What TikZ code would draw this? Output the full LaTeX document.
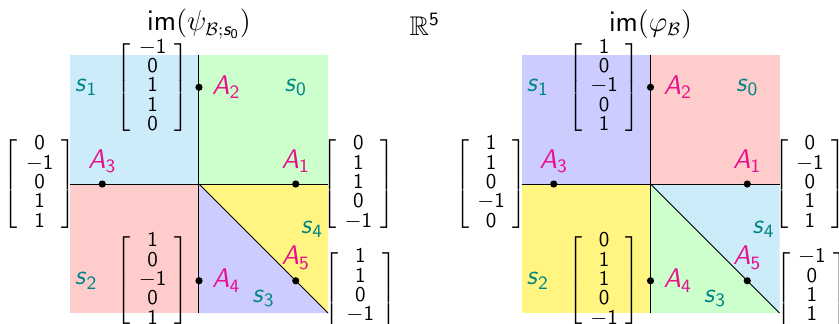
\documentclass[tikz,border=0pt]{standalone}
\usepackage{amsmath,amssymb}
\usepackage{tikz}
\usetikzlibrary{positioning}
\renewcommand{\familydefault}{\sfdefault}

\definecolor{regcyan}{RGB}{204,236,250}
\definecolor{reggreen}{RGB}{204,255,204}
\definecolor{regpink}{RGB}{255,204,204}
\definecolor{reglav}{RGB}{204,204,255}
\definecolor{regyellow}{RGB}{255,245,128}
\definecolor{ptpink}{RGB}{232,16,140}
\definecolor{stealcol}{RGB}{0,133,133}

\newcommand{\biglbl}{\fontsize{13.5}{16}\selectfont}
\newcommand{\vecfont}{\fontsize{10.5}{8.5}\selectfont}
% italic sans letter with upright sans index
\newcommand{\sv}[2]{\textit{#1}$_{\text{#2}}$}
\newcommand{\colvec}[5]{$\left[\vcenter{\hbox{\setlength{\tabcolsep}{4pt}%
  \begin{tabular}{c}#1\\#2\\#3\\#4\\#5\end{tabular}}}\right]$}

\begin{document}
\begin{tikzpicture}[x=1.134cm,y=1.134cm,
    wall/.style={line width=0.5pt},
    pt/.style={circle,fill=black,inner sep=0pt,minimum size=3.6pt},
    alab/.style={text=ptpink,font=\biglbl},
    slab/.style={text=stealcol,font=\biglbl},
    ttl/.style={font=\biglbl},
    vec/.style={font=\vecfont}]

\useasboundingbox (-3.085,-2.155) rectangle (9.922,2.853);

% Titles
\node[ttl] (Lttl) at (0,2.48)
  {$\mathsf{im}(\psi_{\mathcal{B};\text{\itshape s}_{\text{0}}})$};
\node[ttl] (space) at (3.5,2.48) {$\mathbb{R}^{\text{5}}$};
\node[ttl] (Rttl) at (7,2.48) {$\mathsf{im}(\varphi_{\mathcal{B}})$};

% Left square: regions
\fill[regcyan] (-2,0) rectangle (0,2);
\fill[reggreen] (0,0) rectangle (2,2);
\fill[regpink] (-2,-2) rectangle (0,0);
\fill[reglav] (0,0) -- (2,-2) -- (0,-2) -- cycle;
\fill[regyellow] (0,0) -- (2,0) -- (2,-2) -- cycle;

% Left square: walls
\draw[wall] (0,2) -- (0,-2);
\draw[wall] (-2,0) -- (2,0);
\draw[wall] (0,0) -- (2,-2);

% Left square: points
\node[pt] (La1) at (1.5,0) {};
\node[pt] (La2) at (0,1.5) {};
\node[pt] (La3) at (-1.5,0) {};
\node[pt] (La4) at (0,-1.5) {};
\node[pt] (La5) at (1.5,-1.5) {};
\node[alab,above=0pt of La1] {\sv{A}{1}};
\node[alab,right=1pt of La2] {\sv{A}{2}};
\node[alab,above=0pt of La3] {\sv{A}{3}};
\node[alab,right=1pt of La4] {\sv{A}{4}};
\node[alab,above=0pt of La5] {\sv{A}{5}};

% Left square: cones
\node[slab] (Ls0) at (1.5,1.5) {\sv{s}{0}};
\node[slab] (Ls1) at (-1.75,1.5) {\sv{s}{1}};
\node[slab] (Ls2) at (-1.75,-1.5) {\sv{s}{2}};
\node[slab] (Ls3) at (1.0,-1.77) {\sv{s}{3}};
\node[slab] (Ls4) at (1.75,-0.7) {\sv{s}{4}};

% Left square: vectors
\node[vec] (Lv1) at (2.47,0) {\colvec{0}{1}{1}{0}{$-$1}};
\node[vec] (Lv2) at (-0.72,1.5) {\colvec{$-$1}{0}{1}{1}{0}};
\node[vec] (Lv3) at (-2.47,0) {\colvec{0}{$-$1}{0}{1}{1}};
\node[vec] (Lv4) at (-0.72,-1.5) {\colvec{1}{0}{$-$1}{0}{1}};
\node[vec] (Lv5) at (2.5,-1.75) {\colvec{1}{1}{0}{$-$1}{0}};

\begin{scope}[shift={(7,0)}]
% Right square: regions
\fill[reglav] (-2,0) rectangle (0,2);
\fill[regpink] (0,0) rectangle (2,2);
\fill[regyellow] (-2,-2) rectangle (0,0);
\fill[reggreen] (0,0) -- (2,-2) -- (0,-2) -- cycle;
\fill[regcyan] (0,0) -- (2,0) -- (2,-2) -- cycle;

% Right square: walls
\draw[wall] (0,2) -- (0,-2);
\draw[wall] (-2,0) -- (2,0);
\draw[wall] (0,0) -- (2,-2);

% Right square: points
\node[pt] (Ra1) at (1.5,0) {};
\node[pt] (Ra2) at (0,1.5) {};
\node[pt] (Ra3) at (-1.5,0) {};
\node[pt] (Ra4) at (0,-1.5) {};
\node[pt] (Ra5) at (1.5,-1.5) {};
\node[alab,above=0pt of Ra1] {\sv{A}{1}};
\node[alab,right=1pt of Ra2] {\sv{A}{2}};
\node[alab,above=0pt of Ra3] {\sv{A}{3}};
\node[alab,right=1pt of Ra4] {\sv{A}{4}};
\node[alab,above=0pt of Ra5] {\sv{A}{5}};

% Right square: cones
\node[slab] (Rs0) at (1.5,1.5) {\sv{s}{0}};
\node[slab] (Rs1) at (-1.75,1.5) {\sv{s}{1}};
\node[slab] (Rs2) at (-1.75,-1.5) {\sv{s}{2}};
\node[slab] (Rs3) at (1.0,-1.77) {\sv{s}{3}};
\node[slab] (Rs4) at (1.75,-0.7) {\sv{s}{4}};

% Right square: vectors
\node[vec] (Rv1) at (2.47,0) {\colvec{0}{$-$1}{0}{1}{1}};
\node[vec] (Rv2) at (-0.72,1.5) {\colvec{1}{0}{$-$1}{0}{1}};
\node[vec] (Rv3) at (-2.47,0) {\colvec{1}{1}{0}{$-$1}{0}};
\node[vec] (Rv4) at (-0.72,-1.5) {\colvec{0}{1}{1}{0}{$-$1}};
\node[vec] (Rv5) at (2.5,-1.75) {\colvec{$-$1}{0}{1}{1}{0}};
\end{scope}

\end{tikzpicture}
\end{document}
